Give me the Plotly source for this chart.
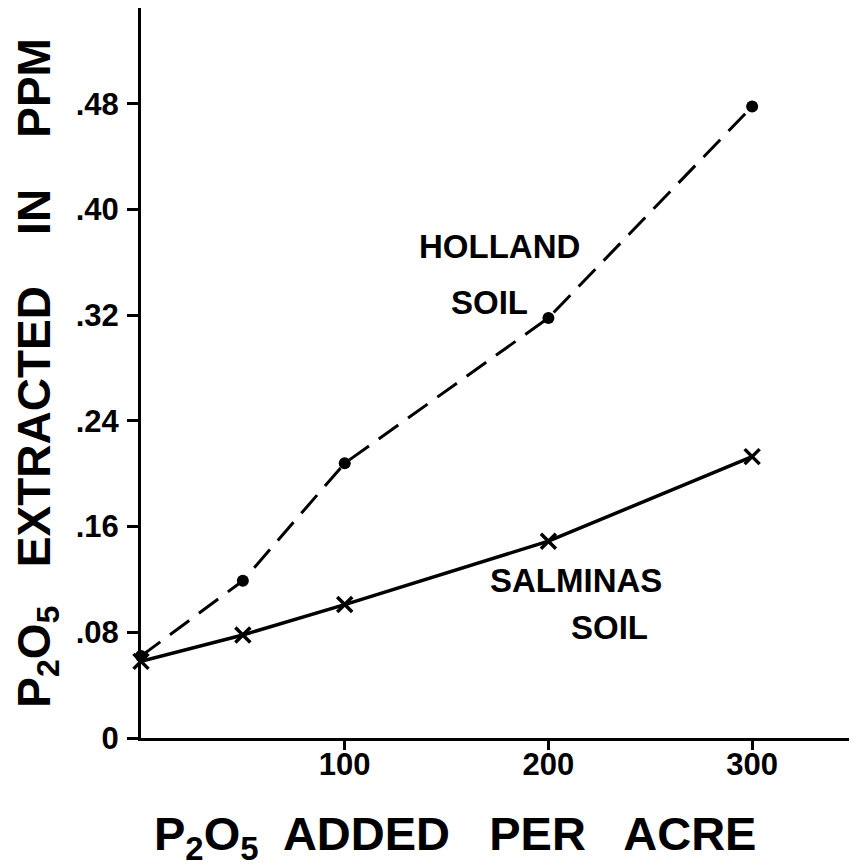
import plotly.graph_objects as go

x_vals = [0, 50, 100, 200, 300]
holland = [0.062, 0.119, 0.208, 0.318, 0.478]
salminas = [0.058, 0.078, 0.101, 0.149, 0.213]

y_tickvals = [0, 0.08, 0.16, 0.24, 0.32, 0.40, 0.48]
y_ticktext = ["0", ".08", ".16", ".24", ".32", ".40", ".48"]
x_tickvals = [100, 200, 300]
x_ticktext = ["100", "200", "300"]

FONT = "Liberation Sans"

fig = go.Figure()
fig.add_trace(go.Scatter(
    x=x_vals, y=holland, mode="lines+markers",
    line=dict(color="black", width=3, dash="24px,12px"),
    marker=dict(symbol="circle", size=12, color="black"),
    cliponaxis=False, showlegend=False))
fig.add_trace(go.Scatter(
    x=x_vals, y=salminas, mode="lines+markers",
    line=dict(color="black", width=3.5),
    marker=dict(symbol="x-thin", size=15, color="black",
                line=dict(color="black", width=3.5)),
    cliponaxis=False, showlegend=False))

ann_font = dict(family=FONT, size=33, color="black", weight="bold")
fig.add_annotation(x=176, y=0.372, text="HOLLAND", showarrow=False, font=ann_font)
fig.add_annotation(x=171.3, y=0.330, text="SOIL", showarrow=False, font=ann_font)
fig.add_annotation(x=213.5, y=0.1196, text="SALMINAS", showarrow=False, font=ann_font)
fig.add_annotation(x=230, y=0.084, text="SOIL", showarrow=False, font=ann_font)

title_font = dict(family=FONT, size=46, color="black", weight="bold")
fig.add_annotation(xref="paper", yref="paper", x=-0.146, y=0.5, xanchor="center", yanchor="middle",
                   text="P<sub>2</sub>O<sub>5</sub>&nbsp;&nbsp; EXTRACTED&nbsp;&nbsp;&nbsp; IN&nbsp;&nbsp;&nbsp; PPM",
                   textangle=-90, showarrow=False, font=title_font)
fig.add_annotation(xref="paper", yref="paper", x=0.44, y=-0.1356, xanchor="center", yanchor="middle",
                   text="P<sub>2</sub>O<sub>5</sub>&nbsp; ADDED&nbsp;&nbsp; PER&nbsp;&nbsp; ACRE",
                   showarrow=False, font=dict(family=FONT, size=47, color="black", weight="bold"))

tick_font = dict(family=FONT, size=31, color="black", weight="bold")
fig.update_xaxes(range=[0, 350.5], tickvals=x_tickvals, ticktext=x_ticktext,
                 showgrid=False, zeroline=False, showline=True, linecolor="black",
                 linewidth=3, ticks="outside", ticklen=9, tickwidth=2.5, tickcolor="black",
                 tickfont=tick_font, ticklabelstandoff=-12)
fig.update_yaxes(range=[0, 0.5526], tickvals=y_tickvals, ticktext=y_ticktext,
                 showgrid=False, zeroline=False, showline=True, linecolor="black",
                 linewidth=3, ticks="outside", ticklen=11, tickwidth=2.5, tickcolor="black",
                 tickfont=tick_font, ticklabelstandoff=2)

fig.update_layout(width=857, height=868, plot_bgcolor="white", paper_bgcolor="white",
                  margin=dict(l=133, r=10, t=0, b=138))
fig.write_html("out.html")
